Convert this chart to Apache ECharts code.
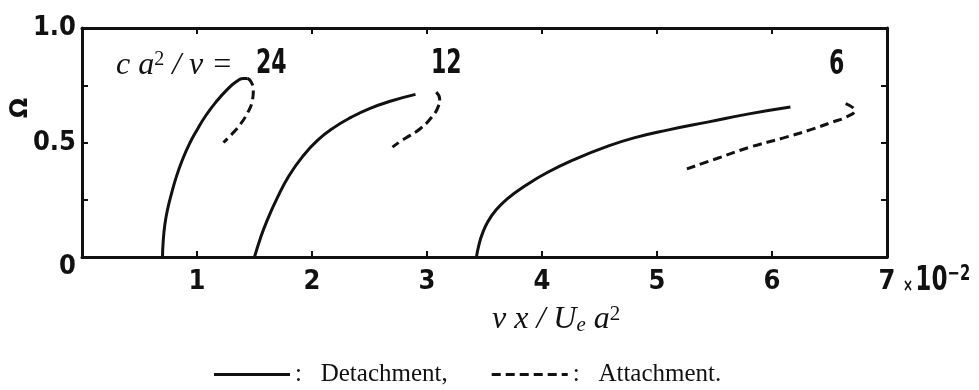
<!DOCTYPE html>
<html>
<head>
<meta charset="utf-8">
<script src="https://cdn.jsdelivr.net/npm/echarts@6/dist/echarts.min.js"></script>
<style>
  html, body { margin: 0; padding: 0; background: #fff; }
  #chart { width: 979px; height: 390px; }
</style>
</head>
<body>
<div id="chart"></div>
<script>
// Ω versus ν x / (U_e a²) (×10⁻²) for c a²/ν = 24, 12 and 6
const xTicks = [0, 1, 2, 3, 4, 5, 6, 7];
const yTickLabels = { 0: '0', 0.5: '0.5', 1: '1.0' };
const curveLabels = ['24', '12', '6'];

// detachment (solid) and attachment (dashed) lines, [x (×10⁻²), Ω]
const detach24 = [[0.70, 0], [0.705, 0.06], [0.72, 0.14], [0.745, 0.21], [0.78, 0.28], [0.82, 0.35],
  [0.87, 0.42], [0.93, 0.49], [1.00, 0.555], [1.08, 0.62], [1.17, 0.68], [1.26, 0.73],
  [1.34, 0.765], [1.40, 0.78], [1.44, 0.78]];
const attach24 = [[1.44, 0.78], [1.47, 0.765], [1.49, 0.73], [1.48, 0.68], [1.44, 0.63],
  [1.37, 0.575], [1.30, 0.535], [1.23, 0.50]];
const detach12 = [[1.50, 0], [1.55, 0.08], [1.61, 0.16], [1.70, 0.26], [1.80, 0.355], [1.92, 0.44],
  [2.05, 0.51], [2.19, 0.565], [2.34, 0.61], [2.50, 0.648], [2.68, 0.68], [2.90, 0.71]];
const attach12 = [[3.08, 0.72], [3.11, 0.69], [3.10, 0.66], [3.04, 0.61], [2.94, 0.56],
  [2.85, 0.53], [2.77, 0.505], [2.70, 0.48]];
const detach6 = [[3.43, 0], [3.45, 0.05], [3.48, 0.10], [3.53, 0.155], [3.60, 0.205], [3.70, 0.255],
  [3.85, 0.31], [4.05, 0.37], [4.30, 0.43], [4.55, 0.48], [4.80, 0.52], [5.10, 0.555],
  [5.45, 0.59], [5.80, 0.625], [6.16, 0.655]];
const attach6 = [[6.64, 0.67], [6.72, 0.64], [6.64, 0.61], [6.53, 0.59], [6.33, 0.555],
  [6.10, 0.52], [5.81, 0.48], [5.52, 0.43], [5.26, 0.385]];

const INK = '#111';
const NARROW = '"DejaVu Sans Condensed", "Liberation Sans Narrow", sans-serif';
const SERIF = '"Liberation Serif", "DejaVu Serif", serif';
const DASH = [9, 5];
const SQUEEZE = 0.72;

const chart = echarts.init(document.getElementById('chart'), null, { renderer: 'canvas' });

function frameAxis(extra) {
  return Object.assign({
    type: 'value',
    axisLine: { show: true, onZero: false, lineStyle: { color: INK, width: 3 } },
    axisTick: { show: true, inside: true, length: 6, lineStyle: { color: INK, width: 2 } },
    splitLine: { show: false },
    axisLabel: { show: false }
  }, extra);
}

function line(name, data, dashed) {
  return {
    name: name,
    type: 'line',
    data: data,
    smooth: 0.5,
    symbol: 'none',
    showSymbol: false,
    itemStyle: { color: INK },
    lineStyle: { color: INK, width: 3, type: dashed ? DASH : 'solid', cap: 'butt' },
    emphasis: { disabled: true },
    z: 3
  };
}

// condensed bold numerals placed above the curves
function numeral(text, x, y, size) {
  return {
    type: 'text', x: x, y: y, scaleX: SQUEEZE, scaleY: 1,
    style: { text: text, fontFamily: NARROW, fontWeight: 'bold', fontSize: size,
      fill: INK, align: 'left', verticalAlign: 'middle' }
  };
}

const option = {
  backgroundColor: '#fff',
  animation: false,
  grid: { left: 82, right: 92, top: 28, bottom: 133, containLabel: false },
  xAxis: [
    frameAxis({
      position: 'bottom', min: xTicks[0], max: xTicks[xTicks.length - 1], interval: 1,
      axisLabel: {
        show: true, margin: 11, color: INK,
        fontFamily: NARROW, fontWeight: 'bold', fontSize: 27,
        formatter: v => (v === 0 ? '' : String(v))
      }
    }),
    frameAxis({ position: 'top', min: xTicks[0], max: xTicks[xTicks.length - 1], interval: 1 })
  ],
  yAxis: [
    frameAxis({
      position: 'left', min: 0, max: 1, interval: 0.25,
      axisLabel: {
        show: true, margin: 6, color: INK,
        fontFamily: NARROW, fontWeight: 'bold', fontSize: 27,
        formatter: v => (v === 0 ? '{z|0}' : (yTickLabels[v] || '')),
        rich: { z: { fontFamily: NARROW, fontWeight: 'bold', fontSize: 27, color: INK, padding: [20, 0, 0, 0] } }
      }
    }),
    frameAxis({ position: 'right', min: 0, max: 1, interval: 0.25 })
  ],
  legend: {
    show: true,
    left: 209,
    top: 357,
    itemWidth: 76,
    itemHeight: 3,
    itemGap: 44,
    selectedMode: false,
    textStyle: { fontFamily: SERIF, fontSize: 25, color: INK },
    formatter: name => (name === 'Detachment' ? ':   Detachment,' : ':   Attachment.'),
    data: [
      { name: 'Detachment', icon: 'path://M0,0H76V3H0Z' },
      { name: 'Attachment', icon: 'path://M0,0h9v3h-9z M14,0h9v3h-9z M28,0h9v3h-9z M42,0h9v3h-9z M56,0h9v3h-9z M70,0h6v3h-6z' }
    ]
  },
  series: [
    line('Detachment', detach24, false),
    line('Attachment', attach24, true),
    line('Detachment', detach12, false),
    line('Attachment', attach12, true),
    line('Detachment', detach6, false),
    line('Attachment', attach6, true)
  ],
  graphic: [
    {
      // y-axis name
      type: 'text', x: 21, y: 108, rotation: Math.PI / 2,
      style: { text: 'Ω', fontFamily: '"DejaVu Sans", sans-serif', fontWeight: 'bold', fontSize: 24,
        fill: INK, align: 'center', verticalAlign: 'middle' }
    },
    {
      // parameter name in front of the first curve label
      type: 'text', x: 116, y: 66,
      style: {
        text: '{i|c a}{s|2}{i| / ν =}',
        align: 'left', verticalAlign: 'middle', fill: INK,
        rich: {
          i: { fontFamily: SERIF, fontStyle: 'italic', fontSize: 32, lineHeight: 32, fill: INK, verticalAlign: 'bottom' },
          s: { fontFamily: SERIF, fontSize: 20, lineHeight: 20, fill: INK, verticalAlign: 'top' }
        }
      }
    },
    numeral(curveLabels[0], 256, 64, 34),
    numeral(curveLabels[1], 431, 64, 34),
    numeral(curveLabels[2], 829, 65, 34),
    {
      // x-axis name
      type: 'text', x: 492, y: 320,
      style: {
        text: '{i|ν x / U}{sub|e}{i| a}{sup|2}',
        align: 'left', verticalAlign: 'middle', fill: INK,
        rich: {
          i: { fontFamily: SERIF, fontStyle: 'italic', fontSize: 32, lineHeight: 32, padding: [0, 0, 7, 0], fill: INK, verticalAlign: 'top' },
          sub: { fontFamily: SERIF, fontStyle: 'italic', fontSize: 21, lineHeight: 21, fill: INK, verticalAlign: 'bottom' },
          sup: { fontFamily: SERIF, fontSize: 21, lineHeight: 21, fill: INK, verticalAlign: 'top' }
        }
      }
    },
    {
      // scale factor of the x axis
      type: 'text', x: 903, y: 281, scaleX: 0.78, scaleY: 1,
      style: {
        text: '{x|×}{n|10}{e|−2}',
        align: 'left', verticalAlign: 'middle', fill: INK,
        rich: {
          x: { fontFamily: NARROW, fontWeight: 'bold', fontSize: 17, lineHeight: 17, fill: INK, verticalAlign: 'bottom', padding: [0, 3, 2, 0] },
          n: { fontFamily: NARROW, fontWeight: 'bold', fontSize: 33, lineHeight: 33, fill: INK, verticalAlign: 'bottom' },
          e: { fontFamily: NARROW, fontWeight: 'bold', fontSize: 21, lineHeight: 21, fill: INK, verticalAlign: 'top' }
        }
      }
    }
  ]
};

chart.setOption(option);
</script>
</body>
</html>
